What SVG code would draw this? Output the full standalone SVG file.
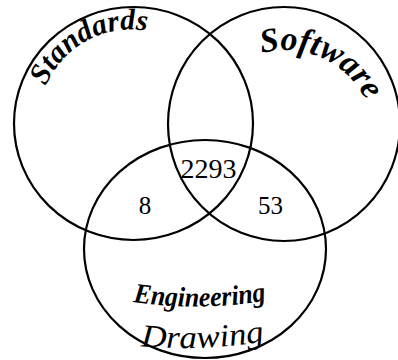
<svg xmlns="http://www.w3.org/2000/svg" width="398" height="360" viewBox="0 0 398 360">
<style>
.ring{fill:none;stroke:#000;stroke-width:2.2}
.lbl{font-family:"Liberation Serif","Times New Roman",serif;font-style:italic;fill:#000}
.num{font-family:"Liberation Serif","Times New Roman",serif;fill:#000;text-anchor:middle}
</style>
<defs>
<path id="pStd" d="M46,86.1 A92,92 0 0 1 152.1,32"/>
<path id="pSoft" d="M261.7,53.1 A90,90 0 0 1 369.6,109.2"/>
<path id="pEng" d="M133,302 Q200,312 270,300"/>
<path id="pDraw" d="M141,346 Q200,352 268,341"/>
</defs>
<rect width="398" height="360" fill="#fff"/>
<g id="standards">
<ellipse class="ring" cx="133.5" cy="123.5" rx="119.5" ry="116.5"/>
<text class="lbl" font-size="30" font-weight="bold" textLength="124" lengthAdjust="spacingAndGlyphs"><textPath href="#pStd">Standards</textPath></text>
</g>
<g id="software">
<ellipse class="ring" cx="284" cy="124" rx="116" ry="117"/>
<text class="lbl" font-size="34" font-weight="bold" textLength="124" lengthAdjust="spacingAndGlyphs"><textPath href="#pSoft">Software</textPath></text>
</g>
<g id="engineering-drawing">
<ellipse class="ring" cx="205" cy="249" rx="121" ry="109"/>
<text class="lbl" font-size="28" font-weight="bold" textLength="134" lengthAdjust="spacingAndGlyphs"><textPath href="#pEng">Engineering</textPath></text>
<text class="lbl" font-size="32" textLength="124" lengthAdjust="spacingAndGlyphs"><textPath href="#pDraw">Drawing</textPath></text>
</g>
<g id="counts">
<text class="num" x="208.5" y="178" font-size="28">2293</text>
<text class="num" x="145" y="214" font-size="25">8</text>
<text class="num" x="270.5" y="214" font-size="25">53</text>
</g>
</svg>
